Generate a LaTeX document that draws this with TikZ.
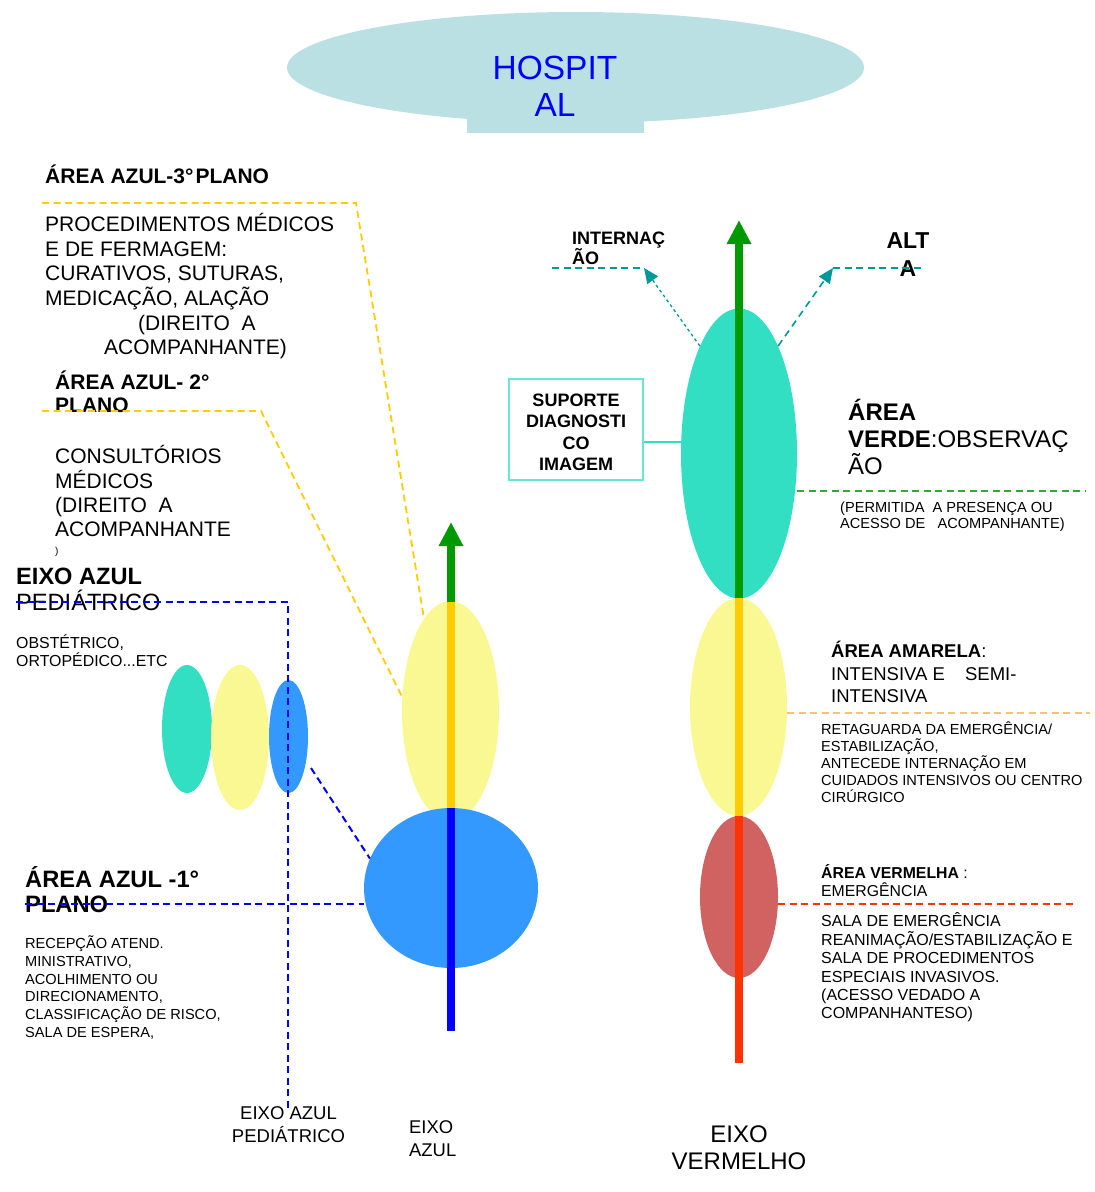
\documentclass[tikz,border=0pt]{standalone}
\usepackage{fontspec}
\setmainfont{Liberation Sans}
\usetikzlibrary{shapes.geometric,arrows.meta}
\lineskiplimit=-50pt
\newcommand\myst{\rule{0pt}{1em}}
\newcommand\fsz[2]{\fontsize{#1}{#2}\selectfont}
\definecolor{hospc}{HTML}{BBE0E3}
\definecolor{tealc}{HTML}{33DFC3}
\definecolor{yelc}{HTML}{FAF892}
\definecolor{bluec}{HTML}{3399FF}
\definecolor{redc}{HTML}{D06262}
\definecolor{axgreen}{HTML}{009900}
\definecolor{axyel}{HTML}{FFCC00}
\definecolor{axblue}{HTML}{0000FF}
\definecolor{axred}{HTML}{FF3300}
\definecolor{dteal}{HTML}{009999}
\definecolor{dgreen}{HTML}{33AA33}
\definecolor{dorange}{HTML}{F7C46C}
\definecolor{boxc}{HTML}{66E8D2}
\begin{document}
\begin{tikzpicture}[x=1pt,y=-1pt,
  blob/.style={ellipse, draw=none, inner sep=0pt},
  txt/.style={inner sep=0pt, anchor=north west, align=left},
  ctxt/.style={inner sep=0pt, anchor=north, align=center},
  axisline/.style={line width=8pt},
  dln/.style={dash pattern=on 7pt off 4.5pt, line width=1.8pt},
  tipA/.style={-{Triangle[length=24pt,width=23pt]}},
  tipB/.style={-{Triangle[length=15pt,width=13pt]}}]
\useasboundingbox (0,0) rectangle (1095,1192);
% hospital
\node[fill=hospc, minimum width=177pt, minimum height=33pt, inner sep=0pt] (hospbase) at (555.5,116.5) {};
\node[blob, fill=hospc, minimum width=577pt, minimum height=111pt] (hosp) at (575.5,67.5) {};
\node[ctxt, text=axblue, font=\fsz{33.5}{37}] (hosptxt) at (555,45.5) {\myst HOSPIT\\AL};
% left small ellipses
\node[blob, fill=tealc, minimum width=50pt, minimum height=128pt] (pT) at (187,729) {};
\node[blob, fill=yelc, minimum width=58pt, minimum height=145pt] (pY) at (240,737.5) {};
\node[blob, fill=bluec, minimum width=39pt, minimum height=113pt] (pB) at (288.5,736.5) {};
% center
\node[blob, fill=yelc, minimum width=97pt, minimum height=220pt] (cY) at (450.5,711) {};
\node[blob, fill=bluec, minimum width=174pt, minimum height=160pt] (cB) at (451,888) {};
% right
\node[blob, fill=tealc, minimum width=116pt, minimum height=290pt] (rT) at (739,453.5) {};
\node[blob, fill=yelc, minimum width=97pt, minimum height=218pt] (rY) at (738.5,707) {};
\node[blob, fill=redc, minimum width=78pt, minimum height=162pt] (rR) at (739,897) {};
% axes
\draw[axisline, axblue] (451,808) -- (451,1031);
\draw[axisline, axyel] (451,602) -- (451,808);
\draw[axisline, axgreen, tipA] (451,602) -- (451,522);
\draw[axisline, axred] (739,816) -- (739,1063);
\draw[axisline, axyel] (739,598) -- (739,816);
\draw[axisline, axgreen, tipA] (739,598) -- (739,220);
% suporte box
\node[draw=boxc, line width=1.5pt, minimum width=134pt, minimum height=101pt, align=center, font=\bfseries\fsz{18}{21.3}, inner sep=0pt] (sup) at (576,429.5) {\myst SUPORTE\\DIAGNOSTI\\CO\\IMAGEM};
\path (sup.east) ++(0,12.5) coordinate (supc);
\draw[tealc, line width=2pt] (supc) -- (supc -| rT.west);
% texts left
\node[txt, font=\bfseries\fsz{21}{24}] (t3t) at (45,162.5) {\myst ÁREA AZUL-3°\kern2pt PLANO};
\node[txt, font=\fsz{21}{24.6}] (t3b) at (45,210.5) {\myst PROCEDIMENTOS MÉDICOS\\E DE FERMAGEM:\\CURATIVOS, SUTURAS,\\MEDICAÇÃO, ALAÇÃO\\\hspace*{93pt}(DIREITO\ \ A\\\hspace*{59pt}ACOMPANHANTE)};
\node[txt, font=\bfseries\fsz{21}{23}] (t2t) at (55,368.5) {\myst ÁREA AZUL- 2°\\PLANO};
\node[txt, font=\fsz{21}{24.4}] (t2b) at (55,442.5) {\myst CONSULTÓRIOS\\MÉDICOS\\(DIREITO\ \ A\\ACOMPANHANTE};
\node[txt, font=\fsz{10}{12}] (t2p) at (55,544) {\myst )};
\node[txt, font=\fsz{23.6}{26}] (tpedt) at (16,560.8) {\myst\textbf{EIXO AZUL}\\PEDIÁTRICO};
\node[txt, font=\fsz{15.9}{18}] (tpedb) at (16,632.8) {\myst OBSTÉTRICO,\\ORTOPÉDICO...ETC};
\node[txt, font=\bfseries\fsz{23.7}{25}] (t1t) at (25,863.8) {\myst ÁREA AZUL -1°\\PLANO};
\node[txt, font=\fsz{14.6}{17.8}] (t1b) at (25,933.6) {\myst RECEPÇÃO ATEND.\\MINISTRATIVO,\\ACOLHIMENTO OU\\DIRECIONAMENTO,\\CLASSIFICAÇÃO DE RISCO,\\SALA DE ESPERA,};
% texts right
\node[txt, font=\bfseries\fsz{18}{20}] (tint) at (572,226.4) {\myst INTERNAÇ\\ÃO};
\node[ctxt, font=\bfseries\fsz{23}{28}] (talt) at (908,225) {\myst ALT\\A};
\node[txt, font=\fsz{24}{27}] (tver) at (848,396.6) {\myst\textbf{ÁREA}\\\textbf{VERDE}:OBSERVAÇ\\ÃO};
\node[txt, font=\fsz{14.6}{16}] (tverb) at (840,497.6) {\myst(PERMITIDA\ \ A PRESENÇA OU\\ACESSO DE\ \ \ ACOMPANHANTE)};
\node[txt, font=\fsz{18.5}{22.5}] (tam) at (831,639.1) {\myst\textbf{ÁREA AMARELA}:\\INTENSIVA E\hspace{15pt} SEMI-\\INTENSIVA};
\node[txt, font=\fsz{14.6}{17}] (tamb) at (821,719.6) {\myst RETAGUARDA DA EMERGÊNCIA/\\ESTABILIZAÇÃO,\\ANTECEDE INTERNAÇÃO EM\\CUIDADOS INTENSIVOS OU CENTRO\\CIRÚRGICO};
\node[txt, font=\fsz{15.8}{18}] (tvm) at (821,862.9) {\myst\textbf{ÁREA VERMELHA} :\\EMERGÊNCIA};
\node[txt, font=\fsz{16}{18.4}] (tvmb) at (821,910.7) {\myst SALA DE EMERGÊNCIA\\REANIMAÇÃO/ESTABILIZAÇÃO E\\SALA DE PROCEDIMENTOS\\ESPECIAIS INVASIVOS.\\(ACESSO VEDADO A\\COMPANHANTESO)};
% bottom labels
\node[ctxt, font=\fsz{18.5}{23}] (bped) at (288.5,1101) {\myst EIXO AZUL\\PEDIÁTRICO};
\node[txt, font=\fsz{18.4}{23}] (bazul) at (409,1115.2) {\myst EIXO\\AZUL};
\node[ctxt, font=\fsz{24}{27}] (bverm) at (739,1118.6) {\myst EIXO\\VERMELHO};
% dashed connectors left
\coordinate (y3a) at (42,203);
\coordinate (y3b) at (356,203);
\draw[dln, axyel] (y3a) -- (y3b) -- (cY.106);
\coordinate (y2a) at (42,411);
\coordinate (y2b) at (261,411);
\draw[dln, axyel] (y2a) -- (y2b) -- (cY.164);
\coordinate (pa) at (16,602);
\coordinate (pb) at (288,602);
\coordinate (pc) at (288,1110);
\draw[dln, axblue, line width=2pt] (pa) -- (pb) -- (pc);
\coordinate (pbs) at (311,768);
\draw[dln, axblue, line width=2pt] (pbs) -- (cB.160);
\coordinate (p1) at (25,904);
\draw[dln, axblue, line width=2pt] (p1) -- (p1 -| cB.west);
% dashed connectors right
\coordinate (gv) at (1085,491);
\draw[dln, dgreen] (gv -| rT.east) -- (gv);
\coordinate (am) at (1090,713);
\draw[dln, dorange, line width=1.3pt] (am -| rY.east) -- (am);
\coordinate (vm) at (1075,904);
\draw[dln, axred] (vm -| rR.east) -- (vm);
% internacao / alta
\coordinate (intL) at (552,268);
\coordinate (intR) at (644,268);
\coordinate (altL) at (833,268);
\coordinate (altR) at (925,268);
\draw[dln, dteal] (intL) -- (intR);
\draw[dln, dteal] (altL) -- (altR);
\draw[dteal, line width=1.3pt, dash pattern=on 3pt off 3pt, tipB] (rT.110) -- (intR);
\draw[dteal, line width=1.6pt, dash pattern=on 7pt off 5pt, tipB] (rT.70) -- (altL);
\end{tikzpicture}
\end{document}
